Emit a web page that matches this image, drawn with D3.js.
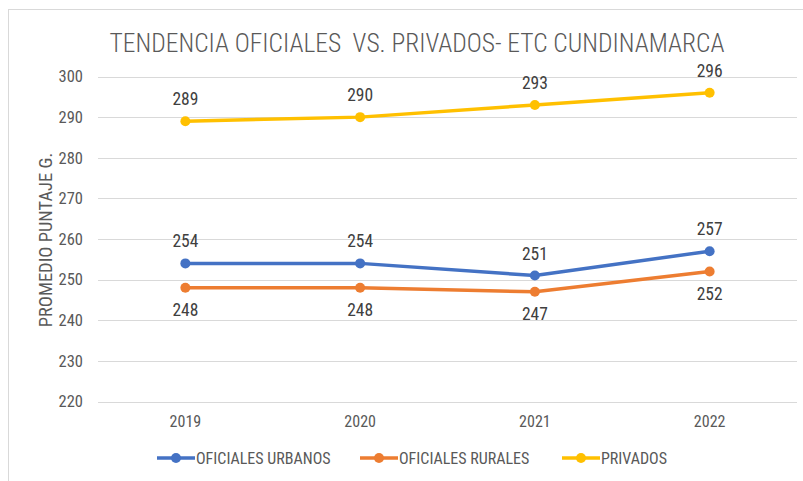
<!DOCTYPE html>
<html lang="es">
<head>
<meta charset="UTF-8">
<title>Tendencia oficiales vs privados</title>
<script src="https://d3js.org/d3.v7.min.js"></script>
<style>
  body { margin: 0; background: #fff; }
  svg text { font-family: "Roboto Condensed", "Liberation Sans Narrow", sans-serif; fill: #595959; }
</style>
</head>
<body>
<svg id="chart" width="803" height="481"></svg>
<script>
  // values
  const years = ["2019", "2020", "2021", "2022"];
  const urbanos = [254, 254, 251, 257];
  const rurales = [248, 248, 247, 252];
  const privados = [289, 290, 293, 296];
  const yTicks = [220, 230, 240, 250, 260, 270, 280, 290, 300];

  const series = [
    { name: "OFICIALES URBANOS", values: urbanos, color: "#4472C4", labelPos: "above" },
    { name: "OFICIALES RURALES", values: rurales, color: "#ED7D31", labelPos: "below" },
    { name: "PRIVADOS", values: privados, color: "#FFC000", labelPos: "above" }
  ];

  const svg = d3.select("#chart");

  // chart frame
  svg.append("rect")
    .attr("x", 8.5).attr("y", 9.5)
    .attr("width", 820).attr("height", 500)
    .attr("fill", "none")
    .attr("stroke", "#d9d9d9");

  const x = d3.scaleBand().domain(years).range([98, 797]);
  const y = d3.scaleLinear().domain([220, 300]).range([401.5, 76.5]);

  // gridlines
  svg.append("g")
    .selectAll("line")
    .data(yTicks)
    .join("line")
    .attr("x1", 98).attr("x2", 797)
    .attr("y1", d => Math.round(y(d)) + 0.5)
    .attr("y2", d => Math.round(y(d)) + 0.5)
    .attr("stroke", "#d9d9d9");

  // y axis labels
  const yAxis = svg.append("g")
    .attr("transform", "translate(88,0)")
    .call(d3.axisLeft(y).tickValues(yTicks).tickSize(0).tickPadding(5));
  yAxis.select(".domain").remove();
  yAxis.selectAll("text").attr("font-size", 16.5).attr("font-family", null);

  // x axis labels
  const xAxis = svg.append("g")
    .attr("transform", "translate(0,416)")
    .call(d3.axisBottom(x).tickSize(0).tickPadding(0));
  xAxis.select(".domain").remove();
  xAxis.selectAll("text").attr("font-size", 16).attr("dy", "0.71em").attr("font-family", null);

  // title
  svg.append("text")
    .attr("x", 417).attr("y", 52)
    .attr("text-anchor", "middle")
    .attr("font-size", 25.5)
    .attr("font-weight", 300)
    .style("white-space", "pre")
    .text("TENDENCIA OFICIALES  VS. PRIVADOS- ETC CUNDINAMARCA");

  // y axis title
  svg.append("text")
    .attr("transform", "translate(52,240) rotate(-90)")
    .attr("text-anchor", "middle")
    .attr("font-size", 18.5)
    .text("PROMEDIO PUNTAJE G.");

  const line = d3.line()
    .x((d, i) => x(years[i]) + x.bandwidth() / 2)
    .y(d => y(d));

  series.forEach(s => {
    const g = svg.append("g");
    g.append("path")
      .datum(s.values)
      .attr("d", line)
      .attr("fill", "none")
      .attr("stroke", s.color)
      .attr("stroke-width", 3.5)
      .attr("stroke-linejoin", "round")
      .attr("stroke-linecap", "round");
    g.selectAll("circle")
      .data(s.values)
      .join("circle")
      .attr("cx", (d, i) => x(years[i]) + x.bandwidth() / 2)
      .attr("cy", d => y(d))
      .attr("r", 5)
      .attr("fill", s.color);
    g.selectAll("text")
      .data(s.values)
      .join("text")
      .attr("x", (d, i) => x(years[i]) + x.bandwidth() / 2)
      .attr("y", d => s.labelPos === "above" ? y(d) - 16 : y(d) + 28)
      .attr("text-anchor", "middle")
      .attr("font-size", 17.5)
      .style("fill", "#404040")
      .text(d => d);
  });

  // legend
  const legendItems = [
    { s: series[0], x: 157 },
    { s: series[1], x: 360 },
    { s: series[2], x: 562 }
  ];
  const legend = svg.append("g").attr("transform", "translate(0,458)");
  legendItems.forEach(it => {
    legend.append("line")
      .attr("x1", it.x).attr("x2", it.x + 38)
      .attr("stroke", it.s.color)
      .attr("stroke-width", 3.5);
    legend.append("circle")
      .attr("cx", it.x + 19).attr("r", 5)
      .attr("fill", it.s.color);
    legend.append("text")
      .attr("x", it.x + 39).attr("dy", "0.36em")
      .attr("font-size", 16)
      .text(it.s.name);
  });
</script>
</body>
</html>
